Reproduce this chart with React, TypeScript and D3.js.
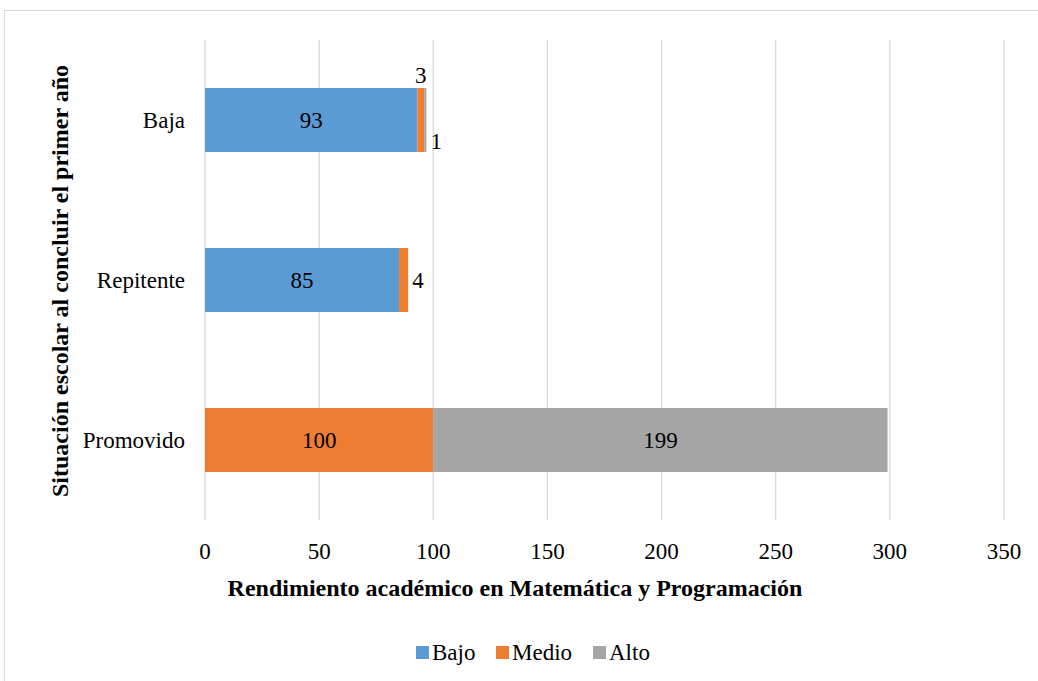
import React, { useRef, useEffect } from "react";
import * as d3 from "d3";

const categories = ["Baja", "Repitente", "Promovido"];
const bajo = [93, 85, 0];
const medio = [3, 4, 100];
const alto = [1, 0, 199];
const seriesNames = ["Bajo", "Medio", "Alto"];
const colors = ["#5B9BD5", "#ED7D31", "#A5A5A5"];
const xTicks = [0, 50, 100, 150, 200, 250, 300, 350];

const W = 1038;
const H = 681;
const font = "'Liberation Serif', 'Times New Roman', serif";
const fs = 23;

function App() {
  const svgRef = useRef<SVGSVGElement>(null);

  useEffect(() => {
    const svg = d3.select(svgRef.current);
    svg.selectAll("*").remove();
    svg.style("font-family", font);

    const x = d3.scaleLinear().domain([0, 350]).range([205, 1004]);
    const y = d3
      .scaleBand()
      .domain(categories)
      .range([40, 520])
      .paddingInner(0.6)
      .paddingOuter(0.3);

    svg
      .append("rect")
      .attr("x", 4.5)
      .attr("y", 10.5)
      .attr("width", W)
      .attr("height", H)
      .attr("fill", "#fff")
      .attr("stroke", "#d9d9d9");

    // grid
    svg
      .append("g")
      .selectAll("line")
      .data(xTicks)
      .join("line")
      .attr("x1", (d) => x(d))
      .attr("x2", (d) => x(d))
      .attr("y1", 40)
      .attr("y2", 520)
      .attr("stroke", "#d9d9d9")
      .attr("stroke-width", 1.3);

    svg
      .append("g")
      .selectAll("text")
      .data(xTicks)
      .join("text")
      .attr("x", (d) => x(d))
      .attr("y", 559)
      .attr("text-anchor", "middle")
      .attr("font-size", fs)
      .attr("fill", "#000")
      .text((d) => d);

    svg
      .append("g")
      .selectAll("text")
      .data(categories)
      .join("text")
      .attr("x", 185)
      .attr("y", (d) => y(d)! + y.bandwidth() / 2)
      .attr("dy", "0.35em")
      .attr("text-anchor", "end")
      .attr("font-size", fs)
      .attr("fill", "#000")
      .text((d) => d);

    const rows = categories.map((c, i) => ({ cat: c, Bajo: bajo[i], Medio: medio[i], Alto: alto[i] }));
    const stacked = d3.stack<any>().keys(seriesNames)(rows);

    stacked.forEach((s, si) => {
      svg
        .append("g")
        .selectAll("rect")
        .data(s.filter((d) => d[1] - d[0] > 0))
        .join("rect")
        .attr("x", (d) => x(d[0]))
        .attr("y", (d) => y(d.data.cat)!)
        .attr("width", (d) => x(d[1]) - x(d[0]))
        .attr("height", y.bandwidth())
        .attr("fill", colors[si]);
    });

    // data labels
    const labels: { v: number; px: number; py: number; anchor: string }[] = [];
    stacked.forEach((s) => {
      s.forEach((d) => {
        const v = d[1] - d[0];
        if (v <= 0) return;
        const cy = y(d.data.cat)! + y.bandwidth() / 2;
        const w = x(d[1]) - x(d[0]);
        if (w > 40) {
          labels.push({ v, px: (x(d[0]) + x(d[1])) / 2, py: cy, anchor: "middle" });
        } else if (s.key === "Medio" && d.data.cat === "Baja") {
          labels.push({ v, px: (x(d[0]) + x(d[1])) / 2, py: y(d.data.cat)! - 13, anchor: "middle" });
        } else {
          labels.push({ v, px: x(d[1]) + 4, py: cy + (s.key === "Alto" ? 21 : 0), anchor: "start" });
        }
      });
    });
    svg
      .append("g")
      .selectAll("text")
      .data(labels)
      .join("text")
      .attr("x", (d) => d.px)
      .attr("y", (d) => d.py)
      .attr("dy", "0.35em")
      .attr("text-anchor", (d) => d.anchor)
      .attr("font-size", fs)
      .attr("fill", "#000")
      .text((d) => d.v);

    svg
      .append("text")
      .attr("x", 515)
      .attr("y", 596)
      .attr("text-anchor", "middle")
      .attr("font-size", 24)
      .attr("font-weight", "bold")
      .attr("fill", "#000")
      .text("Rendimiento académico en Matemática y Programación");

    svg
      .append("text")
      .attr("transform", "translate(68,281) rotate(-90)")
      .attr("text-anchor", "middle")
      .attr("font-size", 24)
      .attr("font-weight", "bold")
      .attr("fill", "#000")
      .text("Situación escolar al concluir el primer año");

    // legend
    const legendX = [416, 496, 593];
    const lg = svg
      .append("g")
      .selectAll("g")
      .data(seriesNames)
      .join("g")
      .attr("transform", (_, i) => `translate(${legendX[i]},652)`);
    lg.append("rect")
      .attr("x", 0)
      .attr("y", -6)
      .attr("width", 13)
      .attr("height", 13)
      .attr("fill", (_, i) => colors[i]);
    lg.append("text")
      .attr("x", 16)
      .attr("dy", "0.35em")
      .attr("font-size", fs)
      .attr("fill", "#000")
      .text((d) => d);
  }, []);

  return (
    <svg
      ref={svgRef}
      width={W}
      height={H}
      style={{ position: "absolute", left: 0, top: 0 }}
    />
  );
}

export default App;
